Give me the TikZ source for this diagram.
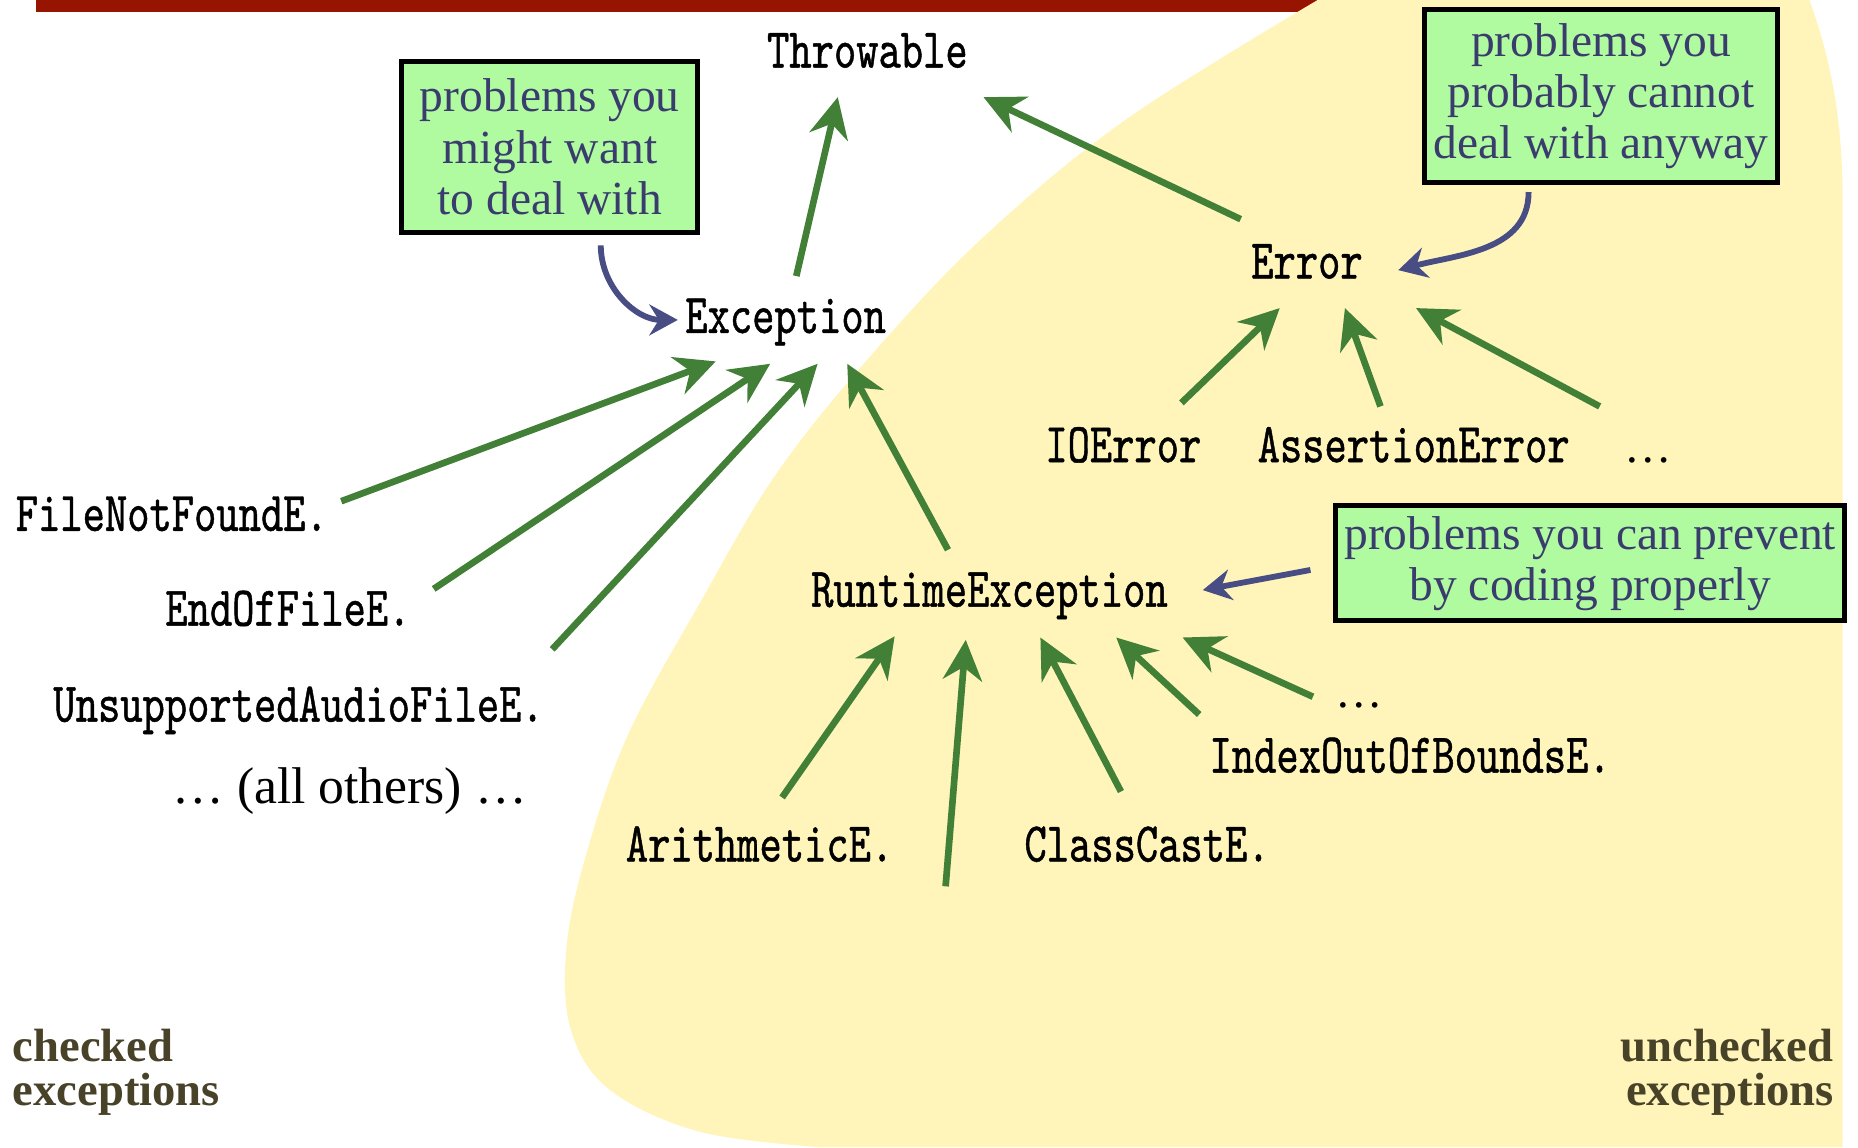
\documentclass[tikz,border=0pt]{standalone}
\usepackage{fontspec}
\setmainfont{Liberation Serif}
\newfontfamily\codefont[FakeStretch=0.755,FakeBold=0.8]{lmmono10-regular.otf}
\usetikzlibrary{arrows.meta,calc}

\definecolor{arrowgreen}{RGB}{66,128,56}
\definecolor{notegreen}{RGB}{176,250,160}
\definecolor{noteblue}{RGB}{58,60,110}
\definecolor{pointblue}{RGB}{72,78,132}
\definecolor{bgyellow}{RGB}{255,245,187}
\definecolor{barred}{RGB}{150,20,0}
\definecolor{labelbrown}{RGB}{72,66,40}

\begin{document}
\begin{tikzpicture}[
    cls/.style={font={\codefont\fontsize{13.5}{14}\selectfont}, inner sep=0pt, anchor=base},
    dotsnode/.style={font={\fontsize{11.4}{12}\selectfont}, inner sep=0pt, anchor=base},
    note/.style={draw=black, line width=1.2pt, fill=notegreen, text=noteblue, align=center,
                 font={\fontsize{11.4}{12.3}\selectfont}, inner sep=0pt},
    kind/.style={font={\bfseries\fontsize{11.2}{10.5}\selectfont}, text=labelbrown, inner sep=0pt},
    inh/.style={draw=arrowgreen, line width=1.6pt, -{Stealth[length=3.4mm,width=3.3mm,inset=1.1mm]}},
    hint/.style={draw=pointblue, line width=1.4pt, -{Stealth[length=2.4mm,width=2.6mm,inset=0.8mm]}}]
    \useasboundingbox (0,0) rectangle (15.68,-9.68);

    % background
    \fill[barred] (0.30,0) rectangle (11.25,-0.10);
    \fill[bgyellow] plot[smooth, tension=0.6] coordinates {(11.12,0) (9.50,-1.01) (8.30,-2.00)
        (7.35,-3.00) (6.55,-4.00) (5.90,-5.10) (5.30,-6.20) (4.95,-7.20) (4.78,-8.00) (4.82,-8.70)
        (5.15,-9.20) (5.90,-9.55) (6.90,-9.68)}
        -- (15.55,-9.68) -- (15.55,-1.69) .. controls (15.55,-1.00) and (15.45,-0.50) .. (15.27,0) -- cycle;

    % classes
    \node[cls] (thr) at (7.32,-0.57) {Throwable};
    \node[cls] (exc) at (6.63,-2.81) {Exception};
    \node[cls] (err) at (11.03,-2.35) {Error};
    \node[cls] (ioe) at (9.48,-3.90) {IOError};
    \node[cls] (ase) at (11.93,-3.90) {AssertionError};
    \node[dotsnode] (errmore) at (13.91,-3.90) {…};
    \node[cls] (rte) at (8.35,-5.12) {RuntimeException};
    \node[cls] (fnf) at (1.45,-4.48) {FileNotFoundE.};
    \node[cls] (eof) at (2.43,-5.28) {EndOfFileE.};
    \node[cls] (uaf) at (2.52,-6.09) {UnsupportedAudioFileE.};
    \node[inner sep=0pt, anchor=base, font={\fontsize{12.4}{13}\selectfont}] (others) at (2.95,-6.78) {… (all others) …};
    \node[cls] (ari) at (6.41,-7.27) {ArithmeticE.};
    \node[cls] (cce) at (9.68,-7.27) {ClassCastE.};
    \node[cls] (ioob) at (11.90,-6.52) {IndexOutOfBoundsE.};
    \node[dotsnode] (rtmore) at (11.47,-5.97) {…};
    \coordinate (rtfree) at (7.98,-7.48);

    % notes
    \node[note, minimum width=2.50cm, minimum height=1.44cm] (want) at (4.64,-1.24)
        {problems you\\might want\\to deal with};
    \node[note, minimum width=2.98cm, minimum height=1.46cm] (cannot) at (13.51,-0.81)
        {\raisebox{-3pt}{problems you}\\\raisebox{-3pt}{probably cannot}\\\raisebox{-3pt}{deal with anyway}};
    \node[note, minimum width=4.30cm, minimum height=0.97cm] (prevent) at (13.42,-4.755)
        {\raisebox{-2.5pt}{problems you can prevent}\\\raisebox{-2.5pt}{by coding properly}};

    \node[kind, anchor=north west, align=left] (checked) at (0.10,-8.68) {checked\\exceptions};
    \node[kind, anchor=north east, align=right] (unchecked) at (15.48,-8.68) {unchecked\\exceptions};

    % inheritance
    \draw[inh] ($(exc.base)+(0.09,0.48)$) -- ($(thr.base)+(-0.25,-0.25)$);
    \draw[inh] ($(err.base)+(-0.56,0.50)$) -- ($(thr.base)+(0.98,-0.25)$);
    \draw[inh] ($(fnf.base)+(1.43,0.25)$) -- ($(exc.base)+(-0.59,-0.24)$);
    \draw[inh] ($(eof.base)+(1.23,0.31)$) -- ($(exc.base)+(-0.13,-0.26)$);
    \draw[inh] ($(uaf.base)+(2.14,0.61)$) -- ($(exc.base)+(0.27,-0.26)$);
    \draw[inh] ($(rte.base)+(-0.35,0.48)$) -- ($(exc.base)+(0.52,-0.26)$);
    \draw[inh] ($(ioe.base)+(0.49,0.50)$) -- ($(err.base)+(-0.23,-0.25)$);
    \draw[inh] ($(ase.base)+(-0.28,0.47)$) -- ($(err.base)+(0.32,-0.25)$);
    \draw[inh] ($(errmore.base)+(-0.41,0.47)$) -- ($(err.base)+(0.92,-0.25)$);
    \draw[inh] ($(ari.base)+(0.19,0.54)$) -- ($(rte.base)+(-0.80,-0.25)$);
    \draw[inh] (rtfree) -- ($(rte.base)+(-0.20,-0.28)$);
    \draw[inh] ($(cce.base)+(-0.22,0.59)$) -- ($(rte.base)+(0.43,-0.26)$);
    \draw[inh] ($(ioob.base)+(-1.78,0.49)$) -- ($(rte.base)+(1.07,-0.26)$);
    \draw[inh] ($(rtmore.base)+(-0.39,0.09)$) -- ($(rte.base)+(1.63,-0.26)$);

    % pointers from the notes
    \draw[hint] ($(want.south)+(0.43,-0.09)$) to[out=-90, in=180] ($(exc.base)+(-0.91,0.11)$);
    \draw[hint] ($(cannot.south)+(-0.61,-0.06)$) to[out=-90, in=15] ($(err.base)+(0.77,0.07)$);
    \draw[hint] ($(prevent.west)+(-0.19,-0.055)$) -- ($(rte.base)+(1.80,0.14)$);
\end{tikzpicture}
\end{document}
